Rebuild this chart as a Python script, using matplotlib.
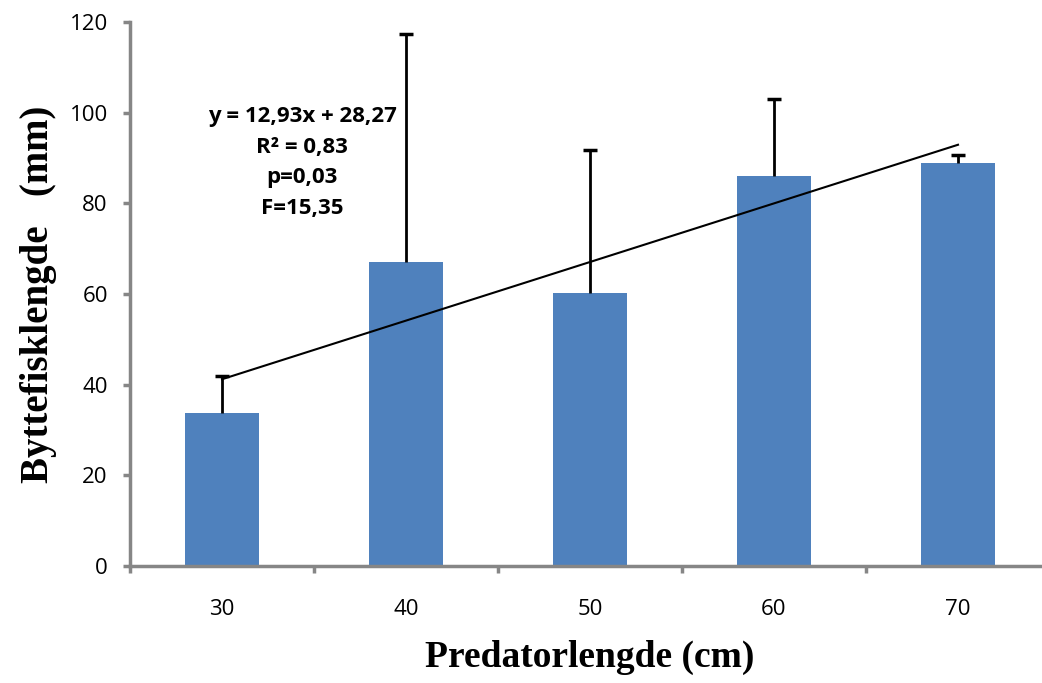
import matplotlib.pyplot as plt
import numpy as np

categories = ['30', '40', '50', '60', '70']
means = [33.7, 67.1, 60.2, 86.0, 88.9]
err_up = [8.2, 50.3, 31.6, 17.0, 1.8]
slope, intercept = 12.93, 28.27
stats_text = 'y = 12,93x + 28,27\nR² = 0,83\np=0,03\nF=15,35'

axis_grey = '#868686'

fig = plt.figure(figsize=(10.42, 6.83), dpi=100)
# the x axis of the original runs a bit past the right edge of the picture
ax = fig.add_axes([130 / 1042, 1 - 566 / 683, 920 / 1042, 544 / 683])

x = np.arange(len(categories))
ax.bar(x, means, width=0.40, color='#4F81BD', zorder=2)
eb = ax.errorbar(x, means, yerr=[np.zeros(len(means)), err_up], fmt='none',
                 ecolor='black', elinewidth=2, capsize=5, capthick=2.5, zorder=3)
# only keep the upper caps
for cap in eb[1]:
    if np.allclose(cap.get_ydata(), means):
        cap.set_visible(False)

trend_x = np.array([x[0], x[-1]])
ax.plot(trend_x, slope * (trend_x + 1) + intercept, color='black', lw=1.5, zorder=4)

ax.text(0.435, 89, stats_text, ha='center', va='center', fontsize=16,
        fontweight='bold', family='Open Sans', linespacing=1.62)

ax.set_xlim(-0.5, len(categories) - 0.5)
ax.set_ylim(0, 120)
ax.set_yticks(range(0, 121, 20))
ax.set_xticks(x)
ax.set_xticklabels(categories)
ax.set_xticks(np.arange(-0.5, len(categories), 1), minor=True)

for side in ['top', 'right']:
    ax.spines[side].set_visible(False)
for side in ['left', 'bottom']:
    ax.spines[side].set_color(axis_grey)
    ax.spines[side].set_linewidth(2.5)

ax.tick_params(axis='y', direction='out', length=5, width=2.5, color=axis_grey,
               labelsize=16, pad=11)
ax.tick_params(axis='x', which='major', length=0, labelsize=16, pad=24)
ax.tick_params(axis='x', which='minor', direction='out', length=5, width=2.5,
               color=axis_grey)
for lbl in ax.get_xticklabels() + ax.get_yticklabels():
    lbl.set_family('Open Sans')

ax.set_xlabel('Predatorlengde (cm)', fontsize=27, fontweight='bold',
              family='Liberation Serif', labelpad=14)
ax.set_ylabel('Byttefisklengde   (mm)', fontsize=28, fontweight='bold',
              family='Liberation Serif', labelpad=9)

fig.savefig('out.png', dpi=100)
